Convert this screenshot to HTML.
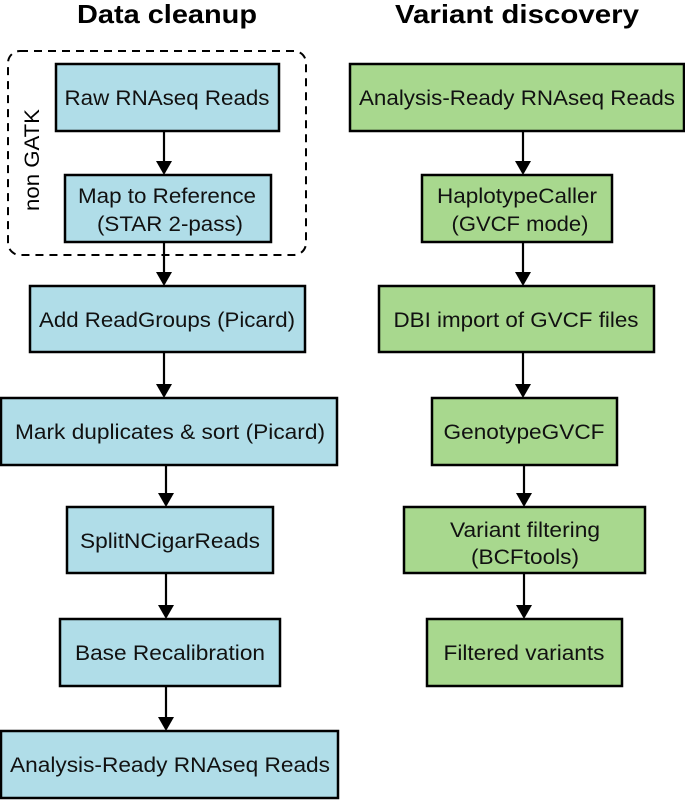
<!DOCTYPE html>
<html><head><meta charset="utf-8"><style>body{margin:0;background:#fff}svg{display:block}</style></head>
<body>
<svg width="685" height="801" viewBox="0 0 685 801" xmlns="http://www.w3.org/2000/svg" font-family="Liberation Sans, Arial, sans-serif">
<text x="167" y="23" font-size="26" font-weight="bold" text-anchor="middle" textLength="180" lengthAdjust="spacingAndGlyphs">Data cleanup</text>
<text x="517" y="23" font-size="26" font-weight="bold" text-anchor="middle" textLength="244" lengthAdjust="spacingAndGlyphs">Variant discovery</text>
<rect x="8" y="51" width="298" height="204" rx="12" fill="none" stroke="#000" stroke-width="2" stroke-dasharray="8,6"/>
<text transform="translate(39,160) rotate(-90)" font-size="21" text-anchor="middle" textLength="102" lengthAdjust="spacingAndGlyphs">non GATK</text>
<g stroke="#000" stroke-width="2.5" fill="#b0dde8">
<rect x="56" y="64" width="223" height="67"/>
<rect x="65" y="175" width="206" height="67"/>
<rect x="30" y="286" width="275" height="66"/>
<rect x="1" y="398" width="336" height="67"/>
<rect x="67" y="507" width="206" height="66"/>
<rect x="60" y="619" width="220" height="67"/>
<rect x="1" y="731" width="337" height="67"/>
</g>
<g stroke="#000" stroke-width="2.5" fill="#a8d88e">
<rect x="350" y="64" width="334" height="67"/>
<rect x="422" y="175" width="190" height="67"/>
<rect x="379" y="286" width="275" height="66"/>
<rect x="432" y="398" width="185" height="67"/>
<rect x="404" y="507" width="241" height="66"/>
<rect x="427" y="619" width="195" height="67"/>
</g>
<g stroke="#000" stroke-width="2.2">
<line x1="164" y1="132" x2="164" y2="164"/>
<line x1="164" y1="243" x2="164" y2="275"/>
<line x1="164" y1="353" x2="164" y2="387"/>
<line x1="166" y1="466" x2="166" y2="496"/>
<line x1="166" y1="574" x2="166" y2="608"/>
<line x1="166" y1="687" x2="166" y2="720"/>
<line x1="523" y1="132" x2="523" y2="164"/>
<line x1="523" y1="243" x2="523" y2="275"/>
<line x1="523" y1="353" x2="523" y2="387"/>
<line x1="524" y1="466" x2="524" y2="496"/>
<line x1="524" y1="574" x2="524" y2="608"/>
</g>
<g fill="#000">
<polygon points="156,161 172,161 164,175"/>
<polygon points="156,272 172,272 164,286"/>
<polygon points="156,384 172,384 164,398"/>
<polygon points="158,493 174,493 166,507"/>
<polygon points="158,605 174,605 166,619"/>
<polygon points="158,717 174,717 166,731"/>
<polygon points="515,161 531,161 523,175"/>
<polygon points="515,272 531,272 523,286"/>
<polygon points="515,384 531,384 523,398"/>
<polygon points="516,493 532,493 524,507"/>
<polygon points="516,605 532,605 524,619"/>
</g>
<g font-size="21" text-anchor="middle" fill="#111">
<text x="167" y="105" textLength="205" lengthAdjust="spacingAndGlyphs">Raw RNAseq Reads</text>
<text x="167" y="203" textLength="178" lengthAdjust="spacingAndGlyphs">Map to Reference</text>
<text x="170" y="231" textLength="146" lengthAdjust="spacingAndGlyphs">(STAR 2-pass)</text>
<text x="167" y="327" textLength="256" lengthAdjust="spacingAndGlyphs">Add ReadGroups (Picard)</text>
<text x="170" y="439" textLength="310" lengthAdjust="spacingAndGlyphs">Mark duplicates &amp; sort (Picard)</text>
<text x="170" y="548" textLength="180" lengthAdjust="spacingAndGlyphs">SplitNCigarReads</text>
<text x="170" y="660" textLength="190" lengthAdjust="spacingAndGlyphs">Base Recalibration</text>
<text x="170" y="772" textLength="320" lengthAdjust="spacingAndGlyphs">Analysis-Ready RNAseq Reads</text>
<text x="517" y="105" textLength="316" lengthAdjust="spacingAndGlyphs">Analysis-Ready RNAseq Reads</text>
<text x="517" y="203" textLength="160" lengthAdjust="spacingAndGlyphs">HaplotypeCaller</text>
<text x="520" y="231" textLength="137" lengthAdjust="spacingAndGlyphs">(GVCF mode)</text>
<text x="516" y="327" textLength="245" lengthAdjust="spacingAndGlyphs">DBI import of GVCF files</text>
<text x="524" y="439" textLength="161" lengthAdjust="spacingAndGlyphs">GenotypeGVCF</text>
<text x="525" y="537" textLength="150" lengthAdjust="spacingAndGlyphs">Variant filtering</text>
<text x="525" y="564" textLength="108" lengthAdjust="spacingAndGlyphs">(BCFtools)</text>
<text x="524" y="660" textLength="161" lengthAdjust="spacingAndGlyphs">Filtered variants</text>
</g>
</svg>
</body></html>
